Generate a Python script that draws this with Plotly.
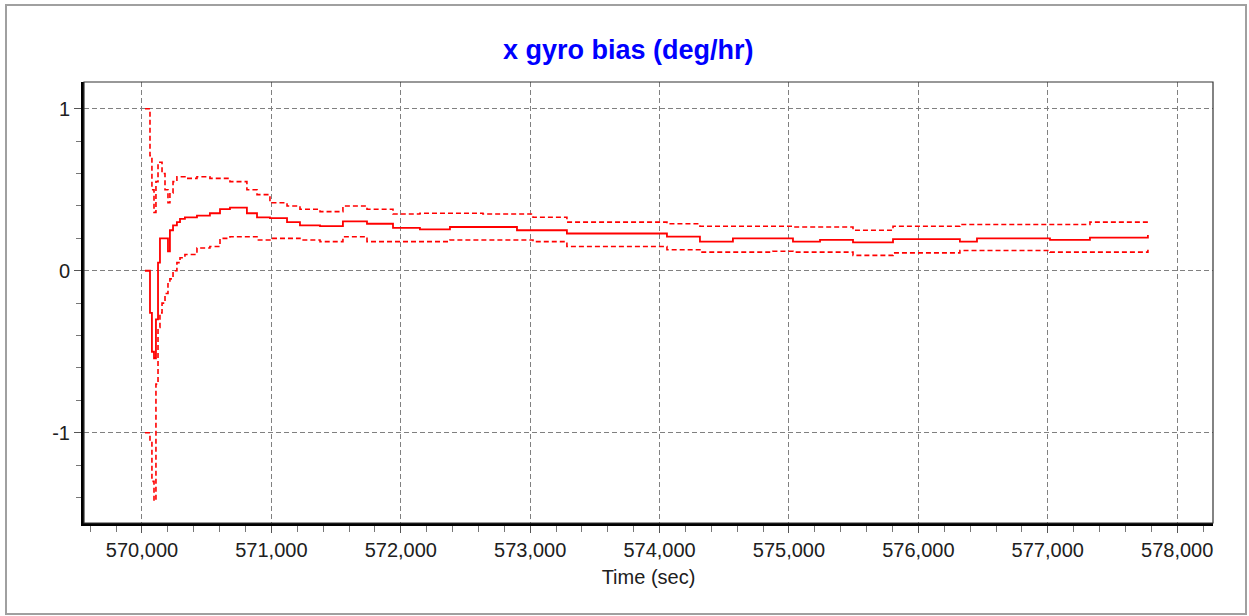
"""x gyro bias estimate with +/- 1 sigma bounds."""

import plotly.graph_objects as go

# ── Data ──────────────────────────────────────────────────────────────────
TIME_SEC = [
    570023, 570039, 570062, 570077, 570093, 570108, 570124, 570139, 570155,
    570178, 570201, 570216, 570240, 570270, 570294, 570332, 570425, 570525,
    570603, 570680, 570811, 570889, 570989, 571121, 571221, 571376, 571553,
    571739, 571940, 572148, 572380, 572635, 572898, 573022, 573284, 573539,
    573794, 574057, 574312, 574567, 574876, 575031, 575240, 575495, 575804,
    576090, 576321, 576453, 576708, 577017, 577326, 577558, 577774,
]
BIAS_MEAN = [
    0.00, 0.00, -0.26, -0.50, -0.54, -0.30, 0.05, 0.20, 0.20,
    0.20, 0.12, 0.25, 0.28, 0.30, 0.32, 0.33, 0.34, 0.355,
    0.38, 0.39, 0.355, 0.33, 0.325, 0.30, 0.28, 0.275, 0.305,
    0.29, 0.265, 0.255, 0.27, 0.27, 0.25, 0.25, 0.23, 0.23,
    0.23, 0.21, 0.18, 0.20, 0.20, 0.18, 0.19, 0.175, 0.195,
    0.195, 0.18, 0.20, 0.20, 0.19, 0.205, 0.205, 0.22,
]
BIAS_UPPER = [
    1.00, 1.00, 0.71, 0.50, 0.36, 0.55, 0.67, 0.67, 0.60,
    0.50, 0.42, 0.48, 0.55, 0.58, 0.58, 0.57, 0.58, 0.57,
    0.57, 0.55, 0.50, 0.47, 0.42, 0.40, 0.38, 0.365, 0.40,
    0.38, 0.35, 0.355, 0.355, 0.35, 0.35, 0.33, 0.30, 0.30,
    0.30, 0.29, 0.275, 0.275, 0.275, 0.27, 0.27, 0.25, 0.275,
    0.275, 0.285, 0.285, 0.285, 0.285, 0.30, 0.30, 0.30,
]
BIAS_LOWER = [
    -1.00, -1.00, -1.05, -1.30, -1.42, -0.70, -0.35, -0.26, -0.20,
    -0.14, -0.08, -0.05, 0.00, 0.05, 0.08, 0.10, 0.14, 0.15,
    0.20, 0.21, 0.21, 0.19, 0.20, 0.20, 0.19, 0.18, 0.21,
    0.18, 0.18, 0.18, 0.19, 0.19, 0.19, 0.18, 0.15, 0.15,
    0.15, 0.13, 0.115, 0.115, 0.12, 0.115, 0.115, 0.095, 0.11,
    0.11, 0.125, 0.125, 0.125, 0.115, 0.115, 0.115, 0.13,
]

Y_TICKS = [-1, 0, 1]
Y_TICK_LABELS = ["-1", "0", "1"]

TITLE = "x gyro bias (deg/hr)"
X_TITLE = "Time (sec)"

# ── Styling ───────────────────────────────────────────────────────────────
WIDTH, HEIGHT = 1249, 616
MARGIN = dict(l=84, r=36, t=82, b=93)
FONT = "Arial, 'Liberation Sans', sans-serif"
RED = "#ff0000"
GRID = dict(showgrid=True, gridcolor="#808080", gridwidth=1.4, griddash="5px,3px")

fig = go.Figure()

for values, dash, width in (
    (BIAS_UPPER, "5px,3px", 1.6),
    (BIAS_LOWER, "5px,3px", 1.6),
    (BIAS_MEAN, "solid", 1.8),
):
    fig.add_trace(go.Scatter(
        x=TIME_SEC,
        y=values,
        mode="lines",
        line=dict(color=RED, width=width, dash=dash, shape="hv"),
        showlegend=False,
        hoverinfo="x+y",
    ))

plot_w = WIDTH - MARGIN["l"] - MARGIN["r"]
plot_h = HEIGHT - MARGIN["t"] - MARGIN["b"]

fig.update_layout(
    width=WIDTH,
    height=HEIGHT,
    margin=MARGIN,
    paper_bgcolor="white",
    plot_bgcolor="white",
    font=dict(family=FONT, size=20, color="#202020"),
    title=dict(
        text=f"<b>{TITLE}</b>",
        font=dict(family=FONT, size=27, color="#0000ff"),
        x=0.503, xanchor="center",
        y=1 - 50 / HEIGHT, yanchor="middle",
    ),
    xaxis=dict(
        range=[569552, 578277],
        dtick=1000,
        tickformat=",d",
        ticks="outside",
        ticklen=7,
        tickcolor="#555555",
        showline=True,
        linecolor="black",
        linewidth=3,
        zeroline=False,
        title=dict(text=X_TITLE, font=dict(size=20), standoff=10),
        minor=dict(dtick=200, ticks="outside", ticklen=6, tickcolor="#777777", showgrid=False),
        **GRID,
    ),
    yaxis=dict(
        range=[-1.557, 1.165],
        tickvals=Y_TICKS,
        ticktext=Y_TICK_LABELS,
        ticks="outside",
        ticklen=7,
        tickcolor="#555555",
        showline=True,
        linecolor="black",
        linewidth=3,
        zeroline=False,
        minor=dict(dtick=0.2, ticks="outside", ticklen=5, tickcolor="#777777", showgrid=False),
        **GRID,
    ),
    shapes=[
        # thin frame round the plot area
        dict(type="rect", xref="paper", yref="paper", x0=0, y0=0, x1=1, y1=1,
             line=dict(color="#333333", width=1.2), layer="above"),
        # grey border round the whole picture
        dict(type="rect", xref="paper", yref="paper",
             x0=(6 - MARGIN["l"]) / plot_w, x1=(1246 - MARGIN["l"]) / plot_w,
             y0=-(614 - (HEIGHT - MARGIN["b"])) / plot_h,
             y1=((HEIGHT - MARGIN["b"]) - 5) / plot_h,
             line=dict(color="#a0a0a0", width=2)),
    ],
)

# page has a default body margin; drop it so the figure sits at (0, 0)
fig.write_html(
    "out.html",
    config={"displayModeBar": False},
    post_script="document.body.style.margin = '0';",
)
